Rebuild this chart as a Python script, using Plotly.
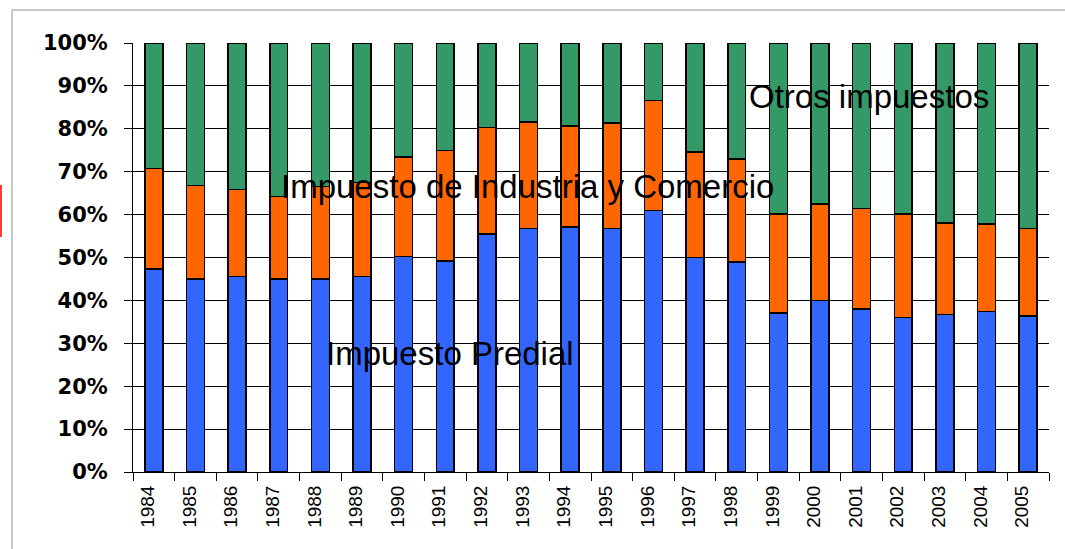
import plotly.graph_objects as go

years = [str(y) for y in range(1984, 2006)]
predial = [47.3, 45.0, 45.6, 45.0, 45.0, 45.6, 50.2, 49.2, 55.5, 56.8, 57.1,
           56.8, 60.9, 50.0, 48.9, 37.1, 40.0, 38.0, 36.0, 36.7, 37.4, 36.4]
industria = [23.4, 21.8, 20.2, 19.2, 21.5, 21.9, 23.2, 25.8, 24.8, 24.8, 23.5,
             24.5, 25.7, 24.6, 24.1, 23.0, 22.5, 23.4, 24.1, 21.4, 20.4, 20.4]
otros = [29.3, 33.2, 34.2, 35.8, 33.5, 32.5, 26.6, 25.0, 19.7, 18.4, 19.4,
         18.7, 13.4, 25.4, 27.0, 39.9, 37.5, 38.6, 39.9, 41.9, 42.2, 43.2]
y_ticks = list(range(0, 101, 10))

W, H = 1065, 549
L, R, T, B = 133, 16, 43, 77
PW, PH = W - L - R, H - T - B


def px(x):
    return (x - L) / PW


def py(y):
    return (H - B - y) / PH


fig = go.Figure()
line = dict(color="black", width=1.5)
fig.add_bar(x=years, y=predial, name="Impuesto Predial",
            marker=dict(color="#3366FF", line=line))
fig.add_bar(x=years, y=industria, name="Impuesto de Industria y Comercio",
            marker=dict(color="#FF6600", line=line))
fig.add_bar(x=years, y=otros, name="Otros impuestos",
            marker=dict(color="#339966", line=line))

label_font = dict(family="Liberation Sans, Arial", size=33, color="black")
for text, cx, cy in [("Otros impuestos", 869, 96.5),
                     ("Impuesto de Industria y Comercio", 527, 186),
                     ("Impuesto Predial", 449.5, 353)]:
    fig.add_annotation(text=text, xref="paper", yref="paper", x=px(cx), y=py(cy),
                       xanchor="center", yanchor="middle", showarrow=False, font=label_font)

# outer frame (light gray) and red mark at left edge
fig.add_shape(type="line", xref="paper", yref="paper", x0=px(12), x1=px(12),
              y0=py(10), y1=py(560), line=dict(color="#C8C8C8", width=2))
fig.add_shape(type="line", xref="paper", yref="paper", x0=px(12), x1=px(1080),
              y0=py(10), y1=py(10), line=dict(color="#C8C8C8", width=2))
fig.add_shape(type="line", xref="paper", yref="paper", x0=px(1), x1=px(1),
              y0=py(185), y1=py(237), line=dict(color="#FF3B3B", width=2))

fig.update_layout(
    width=W, height=H,
    margin=dict(l=L, r=R, t=T, b=B, pad=0),
    paper_bgcolor="white", plot_bgcolor="white",
    barmode="stack", bargap=0.57, showlegend=False,
    xaxis=dict(type="category", showgrid=False, showline=True, linecolor="black", linewidth=1,
               ticks="outside", ticklen=8, tickcolor="black", tickson="boundaries",
               tickangle=-90, ticklabelstandoff=5, ticklabelshift=-6,
               tickfont=dict(family="Liberation Sans, Arial", size=19, color="black")),
    yaxis=dict(range=[0, 100], tickvals=y_ticks, ticktext=[f"{v}%" for v in y_ticks],
               showgrid=True, gridcolor="black", gridwidth=1,
               showline=True, linecolor="black", linewidth=1,
               ticks="outside", ticklen=8, tickcolor="black", ticklabelstandoff=12,
               zeroline=False,
               tickfont=dict(family="DejaVu Sans", size=21, color="black", weight="bold")),
)

fig.write_html("out.html", config={"displayModeBar": False},
               post_script="document.body.style.margin='0';document.body.style.padding='0';")
